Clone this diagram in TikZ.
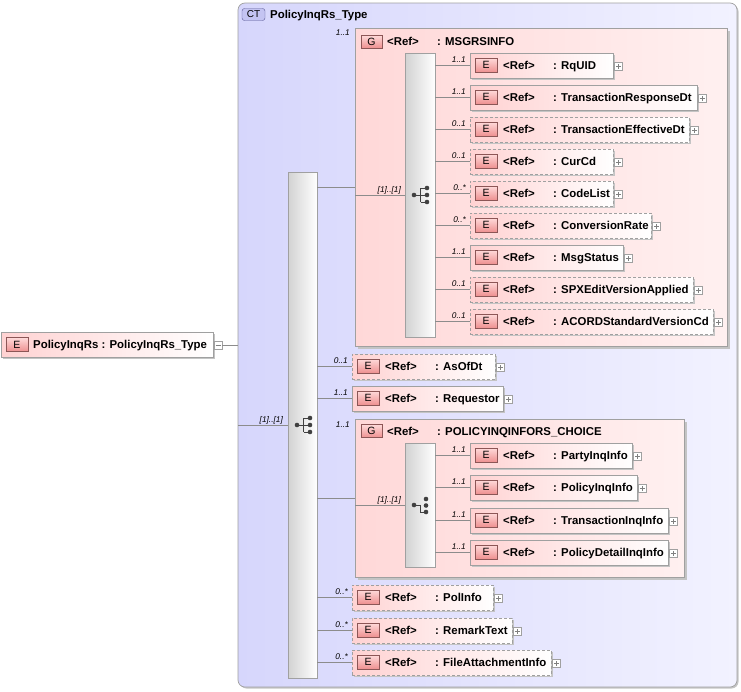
\documentclass[tikz,border=0pt]{standalone}
\usepackage{fontspec}
\setmainfont{Liberation Sans}
\usetikzlibrary{shadows}
\definecolor{ctL}{HTML}{D6D6FC}
\definecolor{ctR}{HTML}{F2F2FF}
\definecolor{grpL}{HTML}{FFD8D8}
\definecolor{grpR}{HTML}{FFF0F0}
\definecolor{elL}{HTML}{FFD2D2}
\definecolor{boxline}{HTML}{A0A0A0}
\definecolor{connc}{HTML}{8C8C8C}
\definecolor{shadowc}{HTML}{C4C4C4}
\definecolor{badgeT}{HTML}{FFDADA}
\definecolor{badgeB}{HTML}{EE9090}
\definecolor{badgeline}{HTML}{8C5656}
\definecolor{ctbadge}{HTML}{C4C4F2}
\definecolor{ctbadgeline}{HTML}{5A5A96}
\definecolor{barL}{HTML}{D2D2D2}
\newcommand\myel[8]{%
  \node[#5, minimum width={(#4-#2)*1pt}] (#1) at (#2,#3) {};
  \node[ebadge] (#1-b) at (#2+16,#3+12) {E};
  \node[txt] (#1-r) at (#2+33,#3+16) {<Ref>};
  \node[txt] (#1-n) at (#2+83,#3+16) {: #7};
  \node[plusbox] (#1-p) at (#4+5.5,#3+13.5) {};
  \draw[plusmark] ([xshift=1.8pt]#1-p.west) -- ([xshift=-1.8pt]#1-p.east)
                  ([yshift=-1.8pt]#1-p.north) -- ([yshift=1.8pt]#1-p.south);
  \draw[conn] (#8.east |- #1.west) -- (#1.west);
  \node[mult] (#1-m) at (#2-4,#3+9.5) {#6};
}
\newcommand\seqico[2]{%
  \fill[black!75] (#1,#2) circle (2.3);
  \draw[black!75, line width=0.9pt] (#1,#2) -- (#1+6.5,#2)
     (#1+6.5,#2-7) -- (#1+6.5,#2+7)
     (#1+6.5,#2-7) -- (#1+13,#2-7) (#1+6.5,#2) -- (#1+13,#2) (#1+6.5,#2+7) -- (#1+13,#2+7);
  \fill[black!75] (#1+13,#2-7) circle (2.3) (#1+13,#2) circle (2.3) (#1+13,#2+7) circle (2.3);
}
\begin{document}
\begin{tikzpicture}[x=1pt,y=-1pt,
  box/.style={draw=boxline, line width=0.7pt, inner sep=0pt, outer sep=0pt, anchor=north west, minimum height=25pt},
  shad/.style={drop shadow={shadow xshift=2pt,shadow yshift=-2pt,fill=shadowc,opacity=1}},
  elreq/.style={box, shad, left color=elL, right color=white},
  elopt/.style={elreq, dash pattern=on 3pt off 2pt},
  grp/.style={box, drop shadow={shadow xshift=3pt,shadow yshift=-3pt,fill=shadowc,opacity=1}, left color=grpL, right color=grpR},
  bar/.style={box, left color=barL, right color=white},
  ebadge/.style={draw=badgeline, line width=0.6pt, top color=badgeT, bottom color=badgeB, minimum width=22pt, minimum height=14pt, inner sep=0pt, font=\fontsize{10.5}{10.5}\selectfont},
  txt/.style={anchor=base west, inner sep=0pt, font=\bfseries\fontsize{11.4}{13}\selectfont},
  mult/.style={anchor=base east, inner sep=0pt, font=\itshape\fontsize{8.3}{9}\selectfont},
  plusbox/.style={draw=boxline, fill=white, line width=0.6pt, minimum size=8pt, inner sep=0pt},
  plusmark/.style={draw=gray, line width=0.6pt},
  conn/.style={draw=connc, line width=0.7pt}
]
\useasboundingbox (0,0) rectangle (741,691);
% complex type box
\node[draw=boxline, line width=0.7pt, rounded corners=7pt, left color=ctL, right color=ctR, anchor=north west,
      drop shadow={shadow xshift=1.5pt,shadow yshift=-1.5pt,fill=shadowc,opacity=1},
      minimum width=499pt, minimum height=684pt, inner sep=0pt, outer sep=0pt] (ct) at (238,3) {};
\node[draw=ctbadgeline, fill=ctbadge, rounded corners=2.5pt, minimum width=23pt, minimum height=12pt, inner sep=0pt,
      font=\fontsize{10}{10}\selectfont] (ctb) at (253.5,14.5) {CT};
\node[txt] (ctt) at (270,18.5) {PolicyInqRs\_Type};
% root element
\node[elreq, minimum width=212pt] (root) at (1,332) {};
\node[ebadge] (root-b) at (17,344.5) {E};
\node[txt] (root-t) at (33,348.5) {PolicyInqRs : PolicyInqRs\_Type};
\node[plusbox] (root-p) at (218,345) {};
\draw[plusmark] ([xshift=1.8pt]root-p.west) -- ([xshift=-1.8pt]root-p.east);
\draw[conn] (root-p.east) -- (ct.west |- root-p.east);
% outer sequence
\node[bar, minimum width=29pt, minimum height=506pt] (bar1) at (288,172) {};
\draw[conn] (ct.west |- bar1.west) -- (bar1.west);
\node[mult] (bar1-m) at (283,422) {[1]..[1]};
\seqico{297}{425}
% group MSGRSINFO
\node[grp, minimum width=372pt, minimum height=318pt] (g1) at (355,28) {};
\node[ebadge, minimum width=21pt, minimum height=13pt] (g1-b) at (371.5,41.5) {G};
\node[txt] (g1-r) at (387,45.5) {<Ref>};
\node[txt] (g1-n) at (437,45.5) {: MSGRSINFO};
\node[mult] (g1-m) at (350,35) {1..1};
\draw[conn] (bar1.east |- g1.west) -- (g1.west);
\node[bar, minimum width=30pt, minimum height=284pt] (bar2) at (405,53) {};
\draw[conn] (g1.west |- bar2.west) -- (bar2.west);
\node[mult] (bar2-m) at (401,192) {[1]..[1]};
\seqico{414}{195}
\myel{e1}{470}{53}{613}{elreq}{1..1}{RqUID}{bar2}
\myel{e2}{470}{85}{697}{elreq}{1..1}{TransactionResponseDt}{bar2}
\myel{e3}{470}{117}{689}{elopt}{0..1}{TransactionEffectiveDt}{bar2}
\myel{e4}{470}{149}{613}{elopt}{0..1}{CurCd}{bar2}
\myel{e5}{470}{181}{613}{elopt}{0..*}{CodeList}{bar2}
\myel{e6}{470}{213}{651}{elopt}{0..*}{ConversionRate}{bar2}
\myel{e7}{470}{245}{623}{elreq}{1..1}{MsgStatus}{bar2}
\myel{e8}{470}{277}{693}{elopt}{0..1}{SPXEditVersionApplied}{bar2}
\myel{e9}{470}{309}{713}{elopt}{0..1}{ACORDStandardVersionCd}{bar2}
% AsOfDt, Requestor
\myel{a1}{352}{354}{495}{elopt}{0..1}{AsOfDt}{bar1}
\myel{a2}{352}{386}{503}{elreq}{1..1}{Requestor}{bar1}
% group POLICYINQINFORS_CHOICE
\node[grp, minimum width=329pt, minimum height=158pt] (g2) at (355,419) {};
\node[ebadge, minimum width=21pt, minimum height=13pt] (g2-b) at (371.5,431) {G};
\node[txt] (g2-r) at (387,435) {<Ref>};
\node[txt] (g2-n) at (437,435) {: POLICYINQINFORS\_CHOICE};
\node[mult] (g2-m) at (350,427) {1..1};
\draw[conn] (bar1.east |- g2.west) -- (g2.west);
\node[bar, minimum width=30pt, minimum height=124pt] (bar3) at (405,443) {};
\draw[conn] (g2.west |- bar3.west) -- (bar3.west);
\node[mult] (bar3-m) at (401,502) {[1]..[1]};
% choice icon
\fill[black!75] (414,505) circle (2.3);
\draw[black!75, line width=0.9pt] (414,505) -- (420,505) -- (420,512) -- (426,512);
\fill[black!75] (426,499) circle (2.3) (426,505.5) circle (2.3) (426,512) circle (2.3);
\myel{c1}{470}{443}{632}{elreq}{1..1}{PartyInqInfo}{bar3}
\myel{c2}{470}{475}{637}{elreq}{1..1}{PolicyInqInfo}{bar3}
\myel{c3}{470}{508}{668}{elreq}{1..1}{TransactionInqInfo}{bar3}
\myel{c4}{470}{540}{668}{elreq}{1..1}{PolicyDetailInqInfo}{bar3}
% remaining
\myel{p1}{352}{585}{493}{elopt}{0..*}{PolInfo}{bar1}
\myel{p2}{352}{618}{512}{elopt}{0..*}{RemarkText}{bar1}
\myel{p3}{352}{650}{551}{elopt}{0..*}{FileAttachmentInfo}{bar1}
\end{tikzpicture}
\end{document}
